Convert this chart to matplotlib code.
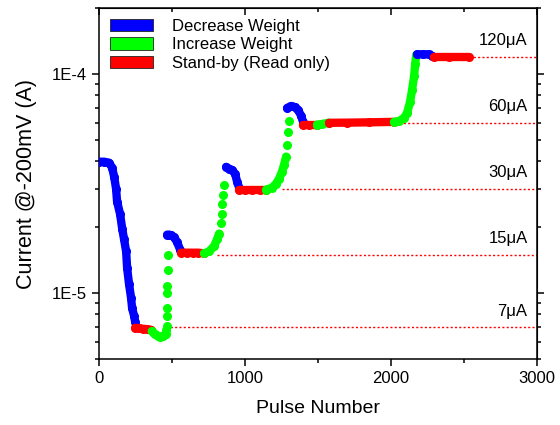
import numpy as np
import matplotlib.pyplot as plt
from matplotlib.patches import Patch
from matplotlib.ticker import LogLocator, FixedLocator, FuncFormatter, NullFormatter

plt.rcParams['font.family'] = ['Liberation Sans', 'DejaVu Sans']

BLUE = '#0000ff'
GREEN = '#00ff00'
RED = '#ff0000'

# --- potentiation / depression sequence, current read at -200 mV ---
dec1_x = [0, 34, 68, 89, 103, 116, 123, 144, 158, 171, 185, 192, 205, 219, 226, 240, 247]
dec1_y = [3.98e-5, 3.98e-5, 3.94e-5, 3.74e-5, 3.4e-5, 3.0e-5, 2.62e-5, 2.29e-5, 1.97e-5,
          1.76e-5, 1.55e-5, 1.3e-5, 1.1e-5, 9.5e-6, 8.55e-6, 7.85e-6, 7.4e-6]
read1_x = [247, 270, 300, 330, 356]
read1_y = [6.95e-6, 6.92e-6, 6.88e-6, 6.85e-6, 6.8e-6]
inc1_x = [360, 380, 400, 420, 440, 455]
inc1_y = [6.7e-6, 6.5e-6, 6.4e-6, 6.3e-6, 6.35e-6, 6.5e-6]
inc1r_x = [460, 462, 464, 466, 467, 468, 470, 472]
inc1r_y = [6.8e-6, 7.1e-6, 7.85e-6, 8.55e-6, 1.0e-5, 1.08e-5, 1.27e-5, 1.49e-5]

dec2_x = [466, 480, 493, 514, 534, 555]
dec2_y = [1.85e-5, 1.85e-5, 1.84e-5, 1.8e-5, 1.71e-5, 1.58e-5]
read2_x = [562, 600, 640, 680, 719]
read2_y = [1.53e-5, 1.53e-5, 1.53e-5, 1.53e-5, 1.52e-5]
inc2_x = [719, 753, 788, 808, 822]
inc2_y = [1.52e-5, 1.55e-5, 1.64e-5, 1.76e-5, 1.87e-5]
inc2r_x = [836, 842, 845, 849, 856]
inc2r_y = [2.08e-5, 2.29e-5, 2.54e-5, 2.82e-5, 3.1e-5]

dec3_x = [870, 890, 911, 932, 945, 959]
dec3_y = [3.77e-5, 3.7e-5, 3.65e-5, 3.5e-5, 3.23e-5, 3.03e-5]
read3_x = [959, 1000, 1050, 1100, 1144]
read3_y = [2.97e-5, 2.97e-5, 2.97e-5, 2.97e-5, 2.97e-5]
inc3_x = [1144, 1185, 1212, 1233, 1253, 1267, 1281]
inc3_y = [2.97e-5, 3.03e-5, 3.16e-5, 3.33e-5, 3.59e-5, 3.86e-5, 4.2e-5]
inc3r_x = [1288, 1295, 1301]
inc3r_y = [4.75e-5, 5.45e-5, 6.1e-5]

dec4_x = [1288, 1315, 1342, 1363, 1384, 1397]
dec4_y = [7.0e-5, 7.15e-5, 7.07e-5, 6.86e-5, 6.45e-5, 6.05e-5]
read4a_x = [1397, 1440, 1493]
read4a_y = [5.86e-5, 5.86e-5, 5.86e-5]
inc4a_x = [1493, 1530, 1575]
inc4a_y = [5.88e-5, 5.92e-5, 6.0e-5]
read4b_x = [1575, 1700, 1850, 2020]
read4b_y = [5.99e-5, 6.0e-5, 6.02e-5, 6.05e-5]
inc4_x = [2020, 2055, 2089, 2110, 2130, 2144, 2158, 2165, 2172]
inc4_y = [6.05e-5, 6.11e-5, 6.31e-5, 6.65e-5, 7.46e-5, 8.46e-5, 9.8e-5, 1.11e-4, 1.22e-4]

dec5_x = [2178, 2220, 2260, 2281]
dec5_y = [1.23e-4, 1.23e-4, 1.23e-4, 1.21e-4]
read5_x = [2295, 2400, 2534]
read5_y = [1.19e-4, 1.19e-4, 1.19e-4]

# target current levels and where their guide lines start
level_current = [7e-6, 1.5e-5, 3e-5, 6e-5, 1.2e-4]
level_start = [460, 808, 1253, 2055, 2534]
level_text = ['7\u03bcA', '15\u03bcA', '30\u03bcA', '60\u03bcA', '120\u03bcA']

segments = [
    (dec1_x, dec1_y, BLUE, True),
    (read1_x, read1_y, RED, True),
    (inc1_x, inc1_y, GREEN, True),
    (inc1r_x, inc1r_y, GREEN, False),
    (dec2_x, dec2_y, BLUE, True),
    (read2_x, read2_y, RED, True),
    (inc2_x, inc2_y, GREEN, True),
    (inc2r_x, inc2r_y, GREEN, False),
    (dec3_x, dec3_y, BLUE, True),
    (read3_x, read3_y, RED, True),
    (inc3_x, inc3_y, GREEN, True),
    (inc3r_x, inc3r_y, GREEN, False),
    (dec4_x, dec4_y, BLUE, True),
    (read4a_x, read4a_y, RED, True),
    (inc4a_x, inc4a_y, GREEN, True),
    (read4b_x, read4b_y, RED, True),
    (inc4_x, inc4_y, GREEN, True),
    (dec5_x, dec5_y, BLUE, True),
    (read5_x, read5_y, RED, True),
]

fig = plt.figure(figsize=(5.6, 4.25), dpi=100)
ax = fig.add_axes([0.177, 0.155, 0.782, 0.826])

for xs, ys, c, joined in segments:
    ax.plot(xs, ys, linestyle='-' if joined else 'none', lw=6, color=c,
            marker='o', ms=5.5, mec=c, mfc=c, solid_capstyle='round',
            solid_joinstyle='round', zorder=3)

for yv, x0, txt in zip(level_current, level_start, level_text):
    ax.plot([x0, 3000], [yv, yv], color=RED, lw=1.0, ls=(0, (1.5, 1.6)), zorder=2)
    ax.text(2935, yv * 1.09, txt, ha='right', va='bottom', fontsize=12)

ax.set_yscale('log')
ax.set_xlim(0, 3000)
ax.set_ylim(5e-6, 2e-4)

ax.xaxis.set_major_locator(FixedLocator([0, 1000, 2000, 3000]))
ax.xaxis.set_minor_locator(FixedLocator([500, 1500, 2500]))
ax.yaxis.set_major_locator(FixedLocator([1e-5, 1e-4]))
ax.yaxis.set_minor_locator(LogLocator(base=10, subs=np.arange(2, 10)))
ax.yaxis.set_major_formatter(FuncFormatter(lambda v, p: '1E%d' % round(np.log10(v))))
ax.yaxis.set_minor_formatter(NullFormatter())

ax.tick_params(which='both', direction='out', labelsize=12, width=1.1)
ax.tick_params(which='major', length=5)
ax.tick_params(which='minor', length=3)
for s in ax.spines.values():
    s.set_linewidth(1.1)

# mirrored ticks on the top and right frame
top = ax.secondary_xaxis('top')
top.xaxis.set_major_locator(FixedLocator([0, 1000, 2000, 3000]))
top.xaxis.set_minor_locator(FixedLocator([500, 1500, 2500]))
top.tick_params(which='both', direction='in', labeltop=False, width=1.1)
top.tick_params(which='major', length=5)
top.tick_params(which='minor', length=3)
right = ax.secondary_yaxis('right')
right.yaxis.set_major_locator(FixedLocator([1e-5, 1e-4]))
right.yaxis.set_minor_locator(LogLocator(base=10, subs=np.arange(2, 10)))
right.tick_params(which='both', direction='out', labelright=False, width=1.1)
right.tick_params(which='major', length=5)
right.tick_params(which='minor', length=3)

ax.set_xlabel('Pulse Number', fontsize=14, labelpad=10)
ax.set_ylabel('Current @-200mV (A)', fontsize=15.5, labelpad=11)

handles = [Patch(facecolor=BLUE, edgecolor='#222222', lw=0.6),
           Patch(facecolor=GREEN, edgecolor='#222222', lw=0.6),
           Patch(facecolor=RED, edgecolor='#222222', lw=0.6)]
ax.legend(handles, ['Decrease Weight', 'Increase Weight', 'Stand-by (Read only)'],
          loc='upper left', frameon=False, fontsize=12, handlelength=2.6,
          handleheight=0.75, labelspacing=0.2, handletextpad=1.1,
          borderaxespad=0.3, borderpad=0.35)

fig.savefig('out.png', dpi=100)
